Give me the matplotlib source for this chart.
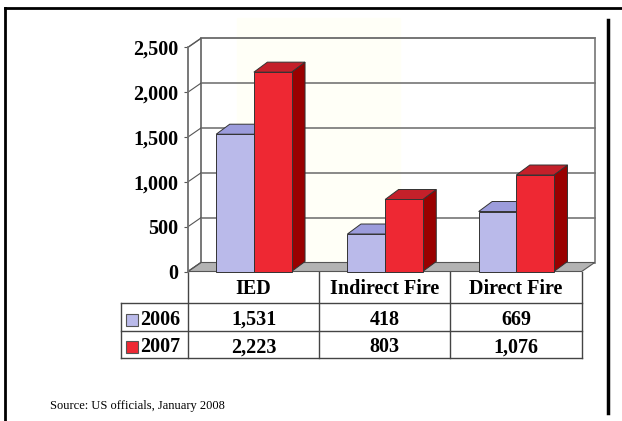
import matplotlib.pyplot as plt
from matplotlib.patches import Polygon, Rectangle
from matplotlib import transforms

categories = ['IED', 'Indirect Fire', 'Direct Fire']
years = ['2006', '2007']
values_2006 = [1531, 418, 669]
values_2007 = [2223, 803, 1076]
y_ticks = [0, 500, 1000, 1500, 2000, 2500]

front_colors = ['#babaea', '#ee2833']
top_colors = ['#9c9cdc', '#c4202a']
side_colors = ['#7a7ab8', '#990000']
serif = 'Liberation Serif'

fig = plt.figure(figsize=(6.22, 4.21), dpi=100)

# pixel overlay for frame, table and source
pix = fig.add_axes([0, 0, 1, 1], zorder=0)
pix.set_xlim(0, 622)
pix.set_ylim(421, 0)
pix.axis('off')

# chart area (front plane of the 3d box)
x_left, x_right, y_zero, y_top = 188, 581.7, 271.5, 47.3
ax = fig.add_axes([x_left / 622, (421 - y_zero) / 421,
                   (x_right - x_left) / 622, (y_zero - y_top) / 421], zorder=1)
ax.patch.set_visible(False)
ax.set_xlim(0, len(categories))
ax.set_ylim(0, y_ticks[-1])

px_x = len(categories) / (x_right - x_left)
px_y = y_ticks[-1] / (y_zero - y_top)
DX, DY = 13 * px_x, 9 * px_y        # wall depth
BDX, BDY = 13.5 * px_x, 10 * px_y   # bar depth

# faint cream background patch
pix.add_patch(Rectangle((237, 18), 163, 253, color='#fffff7', zorder=0))

grid_c = '#757575'
n = len(categories)
top = y_ticks[-1]
# left wall
ax.add_patch(Polygon([(0, 0), (DX, DY), (DX, top + DY), (0, top)],
                     facecolor='white', edgecolor=grid_c, lw=1, clip_on=False, zorder=1))
# back wall outline
ax.add_patch(Polygon([(DX, DY), (n + DX, DY), (n + DX, top + DY), (DX, top + DY)],
                     facecolor='none', edgecolor=grid_c, lw=1.2, clip_on=False, zorder=1))
# floor
ax.add_patch(Polygon([(0, 0), (n, 0), (n + DX, DY), (DX, DY)],
                     facecolor='#b3b3b3', edgecolor='#555555', lw=0.8, clip_on=False, zorder=2))
# grid lines on back and left wall
for t in y_ticks[1:]:
    ax.plot([DX, n + DX], [t + DY, t + DY], color=grid_c, lw=1.2, clip_on=False, zorder=1.5)
    ax.plot([0, DX], [t, t + DY], color='#555555', lw=0.8, clip_on=False, zorder=1.5)
ax.plot([0, DX], [0, DY], color='#555555', lw=0.8, clip_on=False, zorder=2.5)

# bars
width = 0.287
start = 0.215
for j, vals in enumerate([values_2006, values_2007]):
    for i, v in enumerate(vals):
        x0 = i + start + j * width
        x1 = x0 + width
        ec = '#333333'
        ax.add_patch(Polygon([(x1, 0), (x1 + BDX, BDY), (x1 + BDX, v + BDY), (x1, v)],
                             facecolor=side_colors[j], edgecolor=ec, lw=0.7, clip_on=False, zorder=3 + j))
        ax.add_patch(Polygon([(x0, v), (x1, v), (x1 + BDX, v + BDY), (x0 + BDX, v + BDY)],
                             facecolor=top_colors[j], edgecolor=ec, lw=0.7, clip_on=False, zorder=3 + j))
        ax.add_patch(Rectangle((x0, 0), width, v, facecolor=front_colors[j],
                               edgecolor=ec, lw=0.7, clip_on=False, zorder=3 + j))

# axes styling
for s in ['top', 'right', 'bottom']:
    ax.spines[s].set_visible(False)
ax.spines['left'].set_color(grid_c)
ax.spines['left'].set_linewidth(1.2)
ax.set_xticks([])
ax.set_yticks(y_ticks)
ax.set_yticklabels(['{:,}'.format(t) for t in y_ticks], fontfamily=serif,
                   fontweight='bold', fontsize=14.5)
ax.tick_params(axis='y', length=3, color='#555555', pad=4)

# data table
blend = transforms.blended_transform_factory(ax.transData, pix.transData)
row_h = [271.5, 303, 331, 358]
tc = '#444444'
for r in row_h[1:]:
    pix.plot([121, x_right], [r, r], color=tc, lw=1, zorder=2)
for i in range(n + 1):
    pix.plot([i, i], [row_h[0], row_h[-1]], color=tc, lw=1, transform=blend, zorder=2)
pix.plot([121, 121], [row_h[1], row_h[-1]], color=tc, lw=1, zorder=2)

for i, c in enumerate(categories):
    pix.text(i + 0.5, 289, c, transform=blend, ha='center', va='center',
             fontfamily=serif, fontweight='bold', fontsize=14.5)
for j, vals in enumerate([values_2006, values_2007]):
    yc = (row_h[j + 1] + row_h[j + 2]) / 2 + 3
    pix.add_patch(Rectangle((126, yc - 6.5), 12, 12, facecolor=front_colors[j],
                            edgecolor='#555555', lw=0.8, zorder=2))
    pix.text(140.5, yc, years[j], ha='left', va='center', fontfamily=serif,
             fontweight='bold', fontsize=14.5)
    for i, v in enumerate(vals):
        pix.text(i + 0.5, yc, '{:,}'.format(v), transform=blend, ha='center',
                 va='center', fontfamily=serif, fontweight='bold', fontsize=14.5)

# outer frame lines
pix.plot([5, 622], [8, 8], color='black', lw=2)
pix.plot([5, 5], [8, 421], color='black', lw=2)
pix.plot([608, 608], [20, 413], color='black', lw=2.5)

pix.text(50, 406, 'Source: US officials, January 2008', ha='left', va='center',
         fontfamily=serif, fontsize=9)

fig.savefig('out.png', dpi=100)
